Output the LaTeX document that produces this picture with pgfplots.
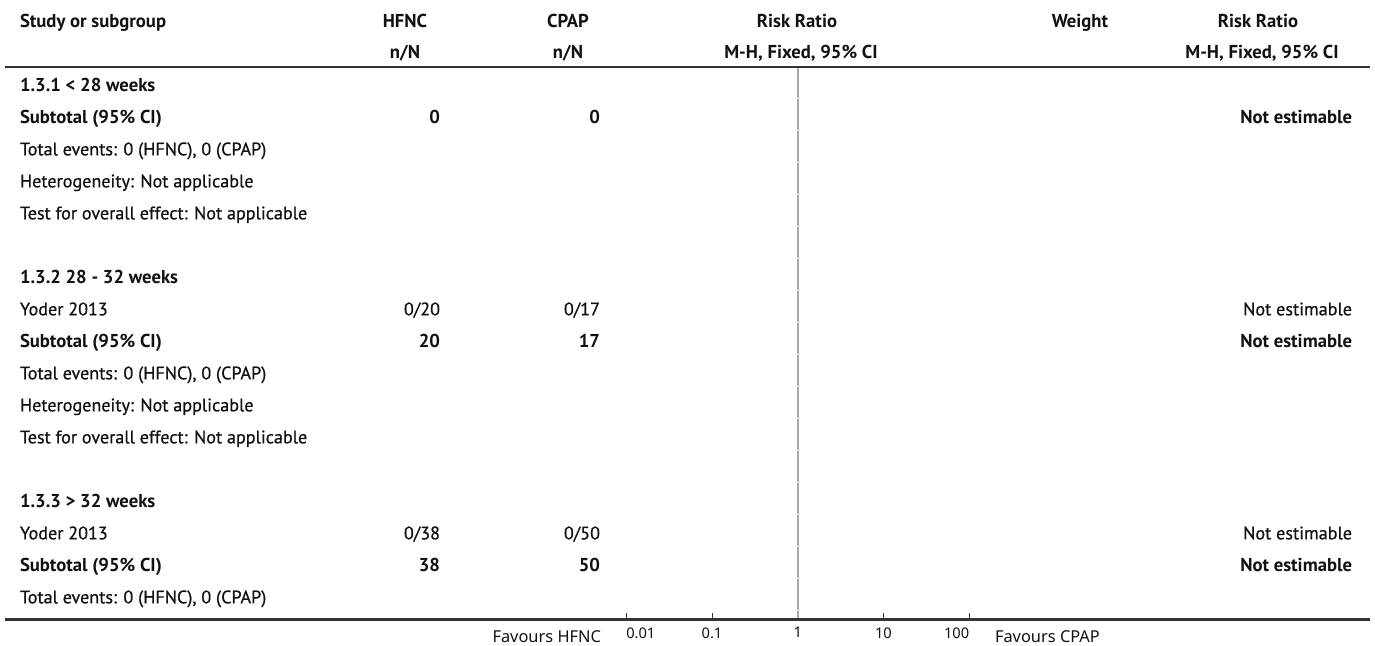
\documentclass[border=0pt]{standalone}
\usepackage{pgfplots}
\pgfplotsset{compat=1.18}
\usepackage{fontspec}
\setmainfont{PT Sans}
\newfontfamily\bodyfont{PT Sans}[FakeBold=0.6]
\newfontfamily\ticksfont{Noto Sans}
\definecolor{ink}{HTML}{111111}
\definecolor{rule}{HTML}{333333}
\definecolor{refline}{HTML}{A8A8A8}

\begin{document}
\begin{tikzpicture}

% forest panel: log risk-ratio scale with the line of no effect
\begin{axis}[at={(462.75pt,-464.6pt)}, anchor=south west,
  scale only axis, width=271.5pt, height=414.4pt,
  xmode=log, xmin=0.00780, xmax=130.0, ymin=0, ymax=1,
  axis x line*=bottom, axis y line=none,
  xtick={0.01,0.1,1,10,100},
  xticklabels={\makebox[0pt][l]{0.01},0.1,1,10,\makebox[0pt][r]{100}},
  xminorticks=false, tick align=inside, major tick length=4.6pt,
  x axis line style={rule,line width=1.6pt},
  xtick style={rule,line width=0.7pt},
  tick label style={font=\fontsize{11}{12}\ticksfont,text=ink},
  xticklabel style={yshift=-2.5pt}]
\addplot[refline, line width=1.4pt, dash pattern=on 23.3pt off 0.7pt]
  coordinates {(1,1) (1,0)};
\end{axis}

\begin{scope}[x=0.75pt,y=-0.75pt,
  every node/.style={inner sep=0pt,outer sep=0pt,text=ink},
  txt/.style={font=\fontsize{13.6}{15}\bodyfont},
  bld/.style={font=\fontsize{14}{16}\selectfont\bfseries},
  lab/.style={font=\fontsize{12.3}{14}\ticksfont}]
\path[use as bounding box] (0,0) rectangle (1375,646);

% rules
\draw[rule,line width=1.6pt] (5,67) -- (1370,67);
\draw[rule,line width=1.6pt] (5,619.5) -- (1370,619.5);

% column headings
\node[bld,anchor=mid west] at (20,24) {Study or subgroup};
\node[bld,anchor=mid] at (405,24) {HFNC};
\node[bld,anchor=mid] at (568,24) {CPAP};
\node[bld,anchor=mid] at (797,24) {Risk Ratio};
\node[bld,anchor=mid] at (1080,24) {Weight};
\node[bld,anchor=mid] at (1258,24) {Risk Ratio};
\node[bld,anchor=mid] at (405,55) {n/N};
\node[bld,anchor=mid] at (568,55) {n/N};
\node[bld,anchor=mid] at (801,55) {M-H, Fixed, 95\% CI};
\node[bld,anchor=mid] at (1262,55) {M-H, Fixed, 95\% CI};

% subgroup 1.3.1
\node[bld,anchor=mid west] at (20,88) {1.3.1 < 28 weeks};
\node[bld,anchor=mid west] at (20,120) {Subtotal (95\% CI)};
\node[bld,anchor=mid east] at (440,120) {0};
\node[bld,anchor=mid east] at (600,120) {0};
\node[bld,anchor=mid east] at (1352,120) {Not estimable};
\node[txt,anchor=mid west] at (20,152) {Total events: 0 (HFNC), 0 (CPAP)};
\node[txt,anchor=mid west] at (20,184) {Heterogeneity: Not applicable};
\node[txt,anchor=mid west] at (20,216) {Test for overall effect: Not applicable};

% subgroup 1.3.2
\node[bld,anchor=mid west] at (20,280) {1.3.2 28 - 32 weeks};
\node[txt,anchor=mid west] at (20,312) {Yoder 2013};
\node[txt,anchor=mid east] at (440,312) {0/20};
\node[txt,anchor=mid east] at (600,312) {0/17};
\node[txt,anchor=mid east] at (1352,312) {Not estimable};
\node[bld,anchor=mid west] at (20,344) {Subtotal (95\% CI)};
\node[bld,anchor=mid east] at (440,344) {20};
\node[bld,anchor=mid east] at (600,344) {17};
\node[bld,anchor=mid east] at (1352,344) {Not estimable};
\node[txt,anchor=mid west] at (20,376) {Total events: 0 (HFNC), 0 (CPAP)};
\node[txt,anchor=mid west] at (20,408) {Heterogeneity: Not applicable};
\node[txt,anchor=mid west] at (20,440) {Test for overall effect: Not applicable};

% subgroup 1.3.3
\node[bld,anchor=mid west] at (20,504) {1.3.3 > 32 weeks};
\node[txt,anchor=mid west] at (20,536) {Yoder 2013};
\node[txt,anchor=mid east] at (440,536) {0/38};
\node[txt,anchor=mid east] at (600,536) {0/50};
\node[txt,anchor=mid east] at (1352,536) {Not estimable};
\node[bld,anchor=mid west] at (20,568) {Subtotal (95\% CI)};
\node[bld,anchor=mid east] at (440,568) {38};
\node[bld,anchor=mid east] at (600,568) {50};
\node[bld,anchor=mid east] at (1352,568) {Not estimable};
\node[txt,anchor=mid west] at (20,600) {Total events: 0 (HFNC), 0 (CPAP)};

% direction labels
\node[lab,anchor=mid east] at (601,639) {Favours HFNC};
\node[lab,anchor=mid west] at (995,639) {Favours CPAP};
\end{scope}
\end{tikzpicture}
\end{document}
